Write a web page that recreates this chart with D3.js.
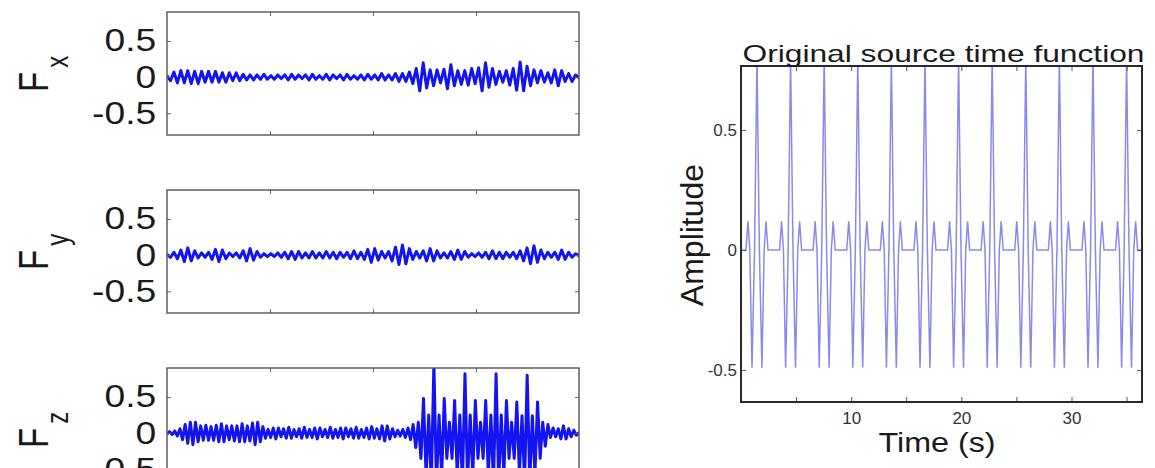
<!DOCTYPE html>
<html lang="en">
<head>
<meta charset="UTF-8">
<title>Forces and source time function</title>
<script src="https://d3js.org/d3.v7.min.js"></script>
<style>
  body { margin: 0; background: #fff; }
  svg { display: block; font-family: "Liberation Sans", Arial, sans-serif; }
</style>
</head>
<body>
<svg></svg>
<script>
// force components (one value per half cycle)
const fxValues = [
  0.02,-0.05,0.07,-0.08,0.09,-0.08,0.09,-0.09,0.08,-0.09,
  0.08,-0.07,0.08,-0.07,0.08,-0.07,0.06,-0.07,0.06,-0.05,
  0.06,-0.05,0.04,-0.04,0.03,-0.04,0.03,-0.03,0.04,-0.03,
  0.02,-0.03,0.03,-0.02,0.03,-0.04,0.04,-0.03,0.03,-0.02,
  0.03,-0.04,0.04,-0.03,0.02,-0.03,0.04,-0.04,0.03,-0.02,
  0.03,-0.04,0.04,-0.03,0.02,-0.03,0.03,-0.04,0.04,-0.03,
  0.03,-0.04,0.05,-0.04,0.03,-0.04,0.05,-0.06,0.05,-0.06,
  0.07,-0.09,0.12,-0.19,0.2,-0.15,0.1,-0.12,0.1,-0.08,
  0.11,-0.16,0.17,-0.12,0.09,-0.1,0.09,-0.11,0.12,-0.09,
  0.13,-0.19,0.2,-0.14,0.12,-0.1,0.08,-0.07,0.09,-0.11,
  0.12,-0.18,0.21,-0.19,0.15,-0.12,0.1,-0.08,0.09,-0.07,
  0.06,-0.08,0.1,-0.12,0.09,-0.06,0.05,-0.06,0.03,-0.01
];
const fyValues = [
  0.01,-0.03,0.04,-0.05,0.07,-0.09,0.1,-0.08,0.06,-0.04,
  0.03,-0.03,0.04,-0.06,0.08,-0.09,0.07,-0.05,0.03,-0.02,
  0.03,-0.04,0.06,-0.08,0.09,-0.07,0.05,-0.03,0.02,-0.02,
  0.02,-0.02,0.03,-0.03,0.04,-0.05,0.05,-0.06,0.05,-0.04,
  0.03,-0.04,0.05,-0.04,0.03,-0.04,0.05,-0.04,0.04,-0.05,
  0.04,-0.03,0.04,-0.05,0.06,-0.05,0.04,-0.06,0.08,-0.1,
  0.09,-0.07,0.05,-0.04,0.05,-0.08,0.11,-0.13,0.14,-0.12,
  0.09,-0.06,0.05,-0.04,0.06,-0.08,0.09,-0.08,0.06,-0.04,
  0.03,-0.04,0.05,-0.06,0.07,-0.06,0.05,-0.03,0.02,-0.02,
  0.03,-0.03,0.04,-0.05,0.06,-0.05,0.04,-0.05,0.04,-0.03,
  0.04,-0.05,0.06,-0.08,0.1,-0.12,0.13,-0.1,0.07,-0.05,
  0.04,-0.03,0.04,-0.06,0.07,-0.06,0.04,-0.03,0.02,-0.01
];
const fzValues = [
  -0.01,0.02,-0.02,0.03,-0.04,0.06,-0.09,0.12,-0.14,0.15,
  -0.16,0.15,-0.12,0.1,-0.1,0.11,-0.1,0.09,-0.1,0.11,
  -0.12,0.13,-0.12,0.1,-0.09,0.1,-0.11,0.1,-0.12,0.13,
  -0.12,0.1,-0.11,0.14,-0.16,0.15,-0.12,0.09,-0.07,0.05,
  -0.06,0.07,-0.08,0.07,-0.05,0.06,-0.07,0.08,-0.07,0.05,
  -0.05,0.06,-0.07,0.08,-0.06,0.05,-0.06,0.07,-0.08,0.07,
  -0.05,0.05,-0.06,0.08,-0.07,0.05,-0.06,0.07,-0.08,0.07,
  -0.05,0.06,-0.07,0.08,-0.07,0.05,-0.06,0.07,-0.08,0.09,
  -0.07,0.06,-0.08,0.1,-0.11,0.1,-0.08,0.06,-0.05,0.04,
  -0.04,0.05,-0.06,0.07,-0.09,0.12,-0.2,0.15,-0.35,0.48,
  -0.6,0.25,-0.72,0.97,-0.72,0.25,-0.6,0.48,-0.35,0.15,
  -0.35,0.45,-0.58,0.25,-0.7,0.82,-0.7,0.25,-0.58,0.45,
  -0.35,0.15,-0.35,0.45,-0.58,0.25,-0.7,0.82,-0.7,0.25,
  -0.58,0.45,-0.35,0.15,-0.35,0.43,-0.56,0.24,-0.68,0.8,
  -0.68,0.24,-0.56,0.43,-0.35,0.15,-0.18,0.12,-0.06,0.07,
  -0.05,0.06,-0.08,0.1,-0.08,0.06,-0.05,0.04,-0.03,0.01
];
const forceSubscripts = ["x", "y", "z"];
const forceRange = [-0.8, 0.9];
const forceTicks = [-0.5, 0, 0.5];
const forceTickLabels = ["-0.5", "0", "0.5"];
const forceTimeTicks = [0.25, 0.5, 0.75];

// source time function: one wavelet repeated at each pulse time
const pulseTimes = [1.45, 4.5, 7.55, 10.6, 13.65, 16.7, 19.75, 22.8, 25.85, 28.9, 31.95, 35.0];
const pulseOffsets = [-1.0, -0.82, -0.65, -0.45, -0.22, 0, 0.22, 0.45, 0.65, 0.82, 1.0];
const pulseShape = [0, 0.12, 0, -0.49, 0, 0.8, 0, -0.49, 0, 0.12, 0];
const stfTimeRange = [0, 36.4];
const stfAmpRange = [-0.633, 0.767];
const stfTimeTicks = [5, 10, 15, 20, 25, 30, 35];
const stfTimeLabels = ["", "10", "", "20", "", "30", ""];
const stfAmpTicks = [-0.5, 0, 0.5];
const stfAmpLabels = ["-0.5", "0", "0.5"];

const width = 1155, height = 468;
const svg = d3.select("svg").attr("width", width).attr("height", height);

// ---- left: three force panels ----
const panelTops = [12, 190, 368];
const panelH = 123, panelL = 167, panelR = 579;
const xF = d3.scaleLinear().domain([0, 1]).range([panelL, panelR]);

[fxValues, fyValues, fzValues].forEach((vals, k) => {
  const top = panelTops[k];
  const y = d3.scaleLinear().domain(forceRange).range([top + panelH, top]);
  const g = svg.append("g");

  g.append("clipPath").attr("id", "clipF" + k)
    .append("rect").attr("x", panelL).attr("y", top).attr("width", panelR - panelL).attr("height", panelH);

  g.append("path")
    .datum(vals)
    .attr("clip-path", `url(#clipF${k})`)
    .attr("d", d3.line().x((d, i) => xF(i / (vals.length - 1))).y(d => y(d)))
    .attr("fill", "none")
    .attr("stroke", "#1414f0")
    .attr("stroke-width", 3)
    .attr("stroke-linejoin", "round");

  const yl = g.append("g").attr("transform", `translate(${panelL},0)`)
    .call(d3.axisLeft(y).tickValues(forceTicks).tickFormat((d, i) => forceTickLabels[i])
      .tickSizeInner(-4).tickSizeOuter(0).tickPadding(9));
  yl.select(".domain").remove();
  yl.selectAll("line").attr("stroke", "#666");
  yl.selectAll("text").attr("font-size", 31).attr("fill", "#1a1a1a")
    .attr("font-family", "Liberation Sans, Arial, sans-serif")
    .attr("transform", "scale(1.2,1)");

  const yr = g.append("g").attr("transform", `translate(${panelR},0)`)
    .call(d3.axisRight(y).tickValues(forceTicks).tickFormat("").tickSizeInner(-4).tickSizeOuter(0));
  yr.select(".domain").remove();
  yr.selectAll("line").attr("stroke", "#666");

  [[d3.axisBottom, top + panelH], [d3.axisTop, top]].forEach(([ax, ty]) => {
    const a = g.append("g").attr("transform", `translate(0,${ty})`)
      .call(ax(xF).tickValues(forceTimeTicks).tickFormat("").tickSizeInner(-4).tickSizeOuter(0));
    a.select(".domain").remove();
    a.selectAll("line").attr("stroke", "#666");
  });

  g.append("rect")
    .attr("x", panelL).attr("y", top).attr("width", panelR - panelL).attr("height", panelH)
    .attr("fill", "none").attr("stroke", "#555").attr("stroke-width", 1.4);

  const lab = g.append("text")
    .attr("transform", `translate(48,${top + 80}) rotate(-90) scale(1,1.27)`)
    .attr("fill", "#1a1a1a");
  lab.append("tspan").attr("font-size", 33).text("F");
  lab.append("tspan").attr("font-size", 24).attr("dx", 4).attr("dy", 15.7).text(forceSubscripts[k]);
});

// ---- right: source time function ----
const sL = 741, sR = 1142, sT = 66, sB = 402;
const xS = d3.scaleLinear().domain(stfTimeRange).range([sL, sR]);
const yS = d3.scaleLinear().domain(stfAmpRange).range([sB, sT]);

const stfPoints = [[stfTimeRange[0], 0]];
pulseTimes.forEach(c => pulseOffsets.forEach((o, j) => stfPoints.push([c + o, pulseShape[j]])));
stfPoints.push([stfTimeRange[1], 0]);

svg.append("clipPath").attr("id", "clipS")
  .append("rect").attr("x", sL).attr("y", sT).attr("width", sR - sL).attr("height", sB - sT);

svg.append("path")
  .datum(stfPoints)
  .attr("clip-path", "url(#clipS)")
  .attr("d", d3.line().x(d => xS(d[0])).y(d => yS(d[1])))
  .attr("fill", "none")
  .attr("stroke", "#8a8aee")
  .attr("stroke-width", 1.5);

const ax1 = svg.append("g").attr("transform", `translate(${sL},0)`)
  .call(d3.axisLeft(yS).tickValues(stfAmpTicks).tickFormat((d, i) => stfAmpLabels[i])
    .tickSizeInner(-5).tickSizeOuter(0).tickPadding(4));
const ax2 = svg.append("g").attr("transform", `translate(${sR},0)`)
  .call(d3.axisRight(yS).tickValues(stfAmpTicks).tickFormat("").tickSizeInner(-5).tickSizeOuter(0));
const ax3 = svg.append("g").attr("transform", `translate(0,${sB})`)
  .call(d3.axisBottom(xS).tickValues(stfTimeTicks).tickFormat((d, i) => stfTimeLabels[i])
    .tickSizeInner(-5).tickSizeOuter(0).tickPadding(10));
const ax4 = svg.append("g").attr("transform", `translate(0,${sT})`)
  .call(d3.axisTop(xS).tickValues(stfTimeTicks).tickFormat("").tickSizeInner(-5).tickSizeOuter(0));
[ax1, ax2, ax3, ax4].forEach(a => {
  a.select(".domain").remove();
  a.selectAll("line").attr("stroke", "#555");
  a.selectAll("text").attr("font-size", 17).attr("fill", "#333")
    .attr("font-family", "Liberation Sans, Arial, sans-serif");
});

svg.append("rect")
  .attr("x", sL).attr("y", sT).attr("width", sR - sL).attr("height", sB - sT)
  .attr("fill", "none").attr("stroke", "#2a2a2a").attr("stroke-width", 2);

svg.append("text")
  .attr("x", (sL + sR) / 2 + 2).attr("y", 62)
  .attr("text-anchor", "middle").attr("font-size", 24)
  .attr("textLength", 402).attr("lengthAdjust", "spacingAndGlyphs")
  .attr("fill", "#1a1a1a")
  .text("Original source time function");

svg.append("text")
  .attr("x", 937).attr("y", 452)
  .attr("text-anchor", "middle").attr("font-size", 28)
  .attr("textLength", 117).attr("lengthAdjust", "spacingAndGlyphs")
  .attr("fill", "#1a1a1a")
  .text("Time (s)");

svg.append("text")
  .attr("transform", "translate(703,235) rotate(-90)")
  .attr("text-anchor", "middle").attr("font-size", 32)
  .attr("fill", "#1a1a1a")
  .text("Amplitude");
</script>
</body>
</html>
